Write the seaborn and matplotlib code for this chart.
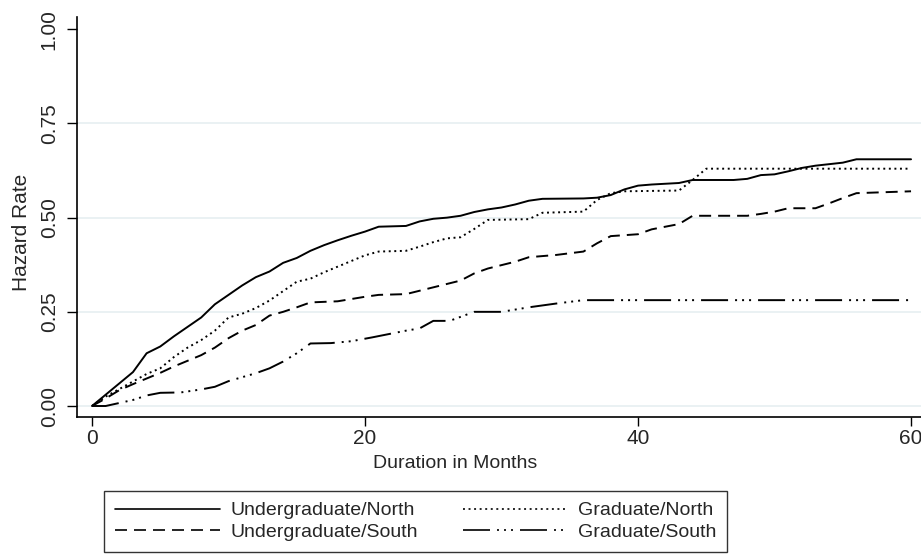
import matplotlib
matplotlib.use("Agg")
import matplotlib.pyplot as plt
import seaborn as sns
import pandas as pd
from matplotlib.lines import Line2D

# ---------------- data ----------------
ug_north_x = [0, 1, 2, 3, 4, 5, 6, 7, 8, 9, 10, 11, 12, 13, 14, 15, 16, 17, 18, 19,
              20, 21, 23, 24, 25, 26, 27, 28, 29, 30, 31, 32, 33, 36, 37, 38, 39, 40,
              41, 42, 43, 44, 47, 48, 49, 50, 51, 52, 53, 55, 56, 60]
ug_north_y = [0, .03, .06, .09, .14, .158, .185, .21, .235, .27, .295, .32, .342, .357,
              .38, .393, .412, .427, .44, .452, .463, .476, .478, .49, .497, .5, .505,
              .515, .522, .527, .535, .545, .55, .551, .553, .56, .575, .585, .588, .59,
              .592, .6, .6, .603, .613, .615, .623, .632, .638, .646, .655, .655]

g_north_x = [0, 1, 2, 3, 4, 5, 6, 7, 8, 9, 10, 11, 12, 13, 14, 15, 16, 17, 18, 19, 20,
             21, 23, 24, 25, 26, 27, 28, 29, 32, 33, 36, 37, 38, 39, 43, 44, 45, 60]
g_north_y = [0, .025, .045, .065, .085, .1, .13, .155, .175, .2, .235, .245, .26, .28,
             .305, .33, .338, .355, .37, .385, .4, .41, .412, .423, .435, .445, .448,
             .47, .494, .496, .513, .516, .547, .565, .57, .572, .6, .63, .63]

ug_south_x = [0, 1, 2, 3, 4, 5, 6, 7, 8, 9, 10, 11, 12, 13, 14, 15, 16, 18, 20, 21, 23,
              25, 27, 28, 29, 31, 32, 34, 36, 37, 38, 40, 41, 43, 44, 48, 49, 50, 51,
              53, 54, 55, 56, 60]
ug_south_y = [0, .02, .042, .058, .073, .088, .105, .12, .135, .155, .18, .2, .215, .24,
              .25, .262, .275, .278, .29, .295, .297, .315, .333, .352, .365, .383, .395,
              .401, .41, .432, .451, .456, .469, .483, .505, .505, .51, .516, .525, .525,
              .538, .552, .565, .57]

g_south_x = [0, 1, 3, 4, 5, 6.5, 8, 9, 10, 12, 13, 14, 15, 16, 17.5, 19, 20.5, 23, 24,
             25, 26.2, 27.4, 28, 30, 32, 34, 36, 60]
g_south_y = [0, 0, .016, .028, .035, .036, .044, .051, .066, .087, .1, .118, .14, .166,
             .167, .172, .182, .2, .206, .226, .226, .242, .25, .25, .262, .272, .281, .281]

series_labels = ["Undergraduate/North", "Graduate/North",
                 "Undergraduate/South", "Graduate/South"]
x_ticks = [0, 20, 40, 60]
y_ticks = [0.0, 0.25, 0.50, 0.75, 1.00]
y_tick_labels = ["0.00", "0.25", "0.50", "0.75", "1.00"]
x_title = "Duration in Months"
y_title = "Hazard Rate"

# ---------------- build long table ----------------
frames = []
for lab, xs, ys in [(series_labels[0], ug_north_x, ug_north_y),
                    (series_labels[1], g_north_x, g_north_y),
                    (series_labels[2], ug_south_x, ug_south_y),
                    (series_labels[3], g_south_x, g_south_y)]:
    frames.append(pd.DataFrame({"month": xs, "hazard": ys, "group": lab}))
df = pd.concat(frames, ignore_index=True)

# ---------------- style ----------------
sns.set_theme(style="white")
plt.rcParams["font.family"] = ["Liberation Sans", "DejaVu Sans"]
plt.rcParams["lines.scale_dashes"] = False

px = 0.72  # points per pixel at dpi 100
dash_styles = {
    series_labels[0]: None,
    series_labels[1]: (1.4, 2.6),
    series_labels[2]: (12 * px, 7 * px),
    series_labels[3]: (27 * px, 7 * px, 2 * px, 5 * px, 2 * px, 5 * px, 2 * px, 7 * px),
}

fig = plt.figure(figsize=(9.21, 5.58), dpi=100)
ax = fig.add_axes([77 / 921, (558 - 417) / 558, (921 - 77) / 921, (417 - 17) / 558])

for lab in series_labels:
    sub = df[df["group"] == lab]
    sns.lineplot(data=sub, x="month", y="hazard", ax=ax, color="black",
                 linewidth=1.4, linestyle="-", legend=False,
                 estimator=None, sort=True)
    if dash_styles[lab]:
        ax.lines[-1].set_dashes(dash_styles[lab])

ax.set_xlim(-1.1, 60.73)
ax.set_ylim(-0.0292, 1.0327)

# grid lines
for yv in [0.0, 0.25, 0.5, 0.75]:
    ax.axhline(yv, color="#E6EFF1", linewidth=1.2, zorder=0)

ax.set_xticks(x_ticks)
ax.set_xticklabels([str(v) for v in x_ticks], fontsize=15)
ax.set_yticks(y_ticks)
ax.set_yticklabels(y_tick_labels, fontsize=15, rotation=90, va="center")
ax.tick_params(axis="x", direction="out", color="black", length=6.5, width=1,
               bottom=True, pad=2)
ax.tick_params(axis="y", direction="out", color="black", length=7.2, width=1,
               left=True, pad=6)

for s in ["top", "right"]:
    ax.spines[s].set_visible(False)
for s in ["left", "bottom"]:
    ax.spines[s].set_color("black")
    ax.spines[s].set_linewidth(1.2)

ax.set_xlabel(x_title, fontsize=14, va="top")
ax.xaxis.set_label_coords((455 - 77) / 844, (417 - 455) / 400)
ax.set_ylabel(y_title, fontsize=15)
ax.yaxis.set_label_coords((31 - 77) / 844, (417 - 232) / 400)

# legend (row 1: U/North, G/North; row 2: U/South, G/South)
order = [series_labels[0], series_labels[2], series_labels[1], series_labels[3]]
handles = []
for lab in order:
    h = Line2D([0], [0], color="black", linewidth=1.2)
    if dash_styles[lab]:
        h.set_dashes(dash_styles[lab])
    handles.append(h)
leg = fig.legend(handles, order, ncol=2, loc="upper left",
                 bbox_to_anchor=(104 / 921, 1 - 491 / 558), frameon=True,
                 fancybox=False, edgecolor="black", handlelength=5.4,
                 handletextpad=0.55, columnspacing=2.3, labelspacing=0.2,
                 borderpad=0.55, borderaxespad=0.0, prop={"size": 14})
leg.get_frame().set_linewidth(1.0)

fig.savefig("out.png", dpi=100)
